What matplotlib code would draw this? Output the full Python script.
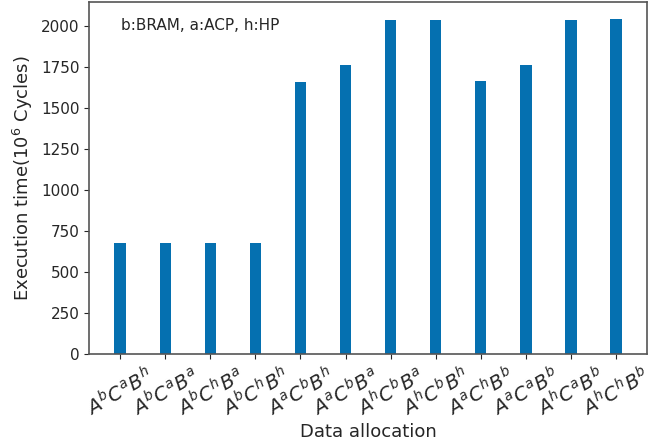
import matplotlib.pyplot as plt
import numpy as np

labels = [r"$A^bC^aB^h$", r"$A^bC^aB^a$", r"$A^bC^hB^a$", r"$A^bC^hB^h$",
          r"$A^aC^bB^h$", r"$A^aC^bB^a$", r"$A^hC^bB^a$", r"$A^hC^bB^h$",
          r"$A^aC^hB^b$", r"$A^aC^aB^b$", r"$A^hC^aB^b$", r"$A^hC^hB^b$"]
cycles = [677, 677, 677, 677, 1659, 1762, 2037, 2037, 1665, 1762, 2037, 2043]

txt = "#262626"
plt.rcParams['font.family'] = ['DejaVu Sans']
plt.rcParams['text.color'] = txt
plt.rcParams['axes.labelcolor'] = txt
plt.rcParams['xtick.color'] = txt
plt.rcParams['ytick.color'] = txt

fig = plt.figure(figsize=(6.55, 4.44), dpi=100)
ax = fig.add_axes([0.136, 0.203, 0.852, 0.792])

x = np.arange(len(labels))
ax.bar(x, cycles, width=0.25, color="#0570b0")
ax.set_xticks(x)
ax.set_xticklabels(labels, rotation=30, ha="center", fontsize=14)
ax.tick_params(axis="y", labelsize=11)
ax.set_xlabel("Data allocation", fontsize=13, labelpad=1.5)
ax.set_ylabel(r"Execution time(10$^6$ Cycles)", fontsize=13)
ax.text(0.057, 0.955, "b:BRAM, a:ACP, h:HP", transform=ax.transAxes,
        fontsize=11, va="top")
for s in ax.spines.values():
    s.set_color("#555555")
    s.set_linewidth(1.2)

fig.savefig("out.png", dpi=100)
